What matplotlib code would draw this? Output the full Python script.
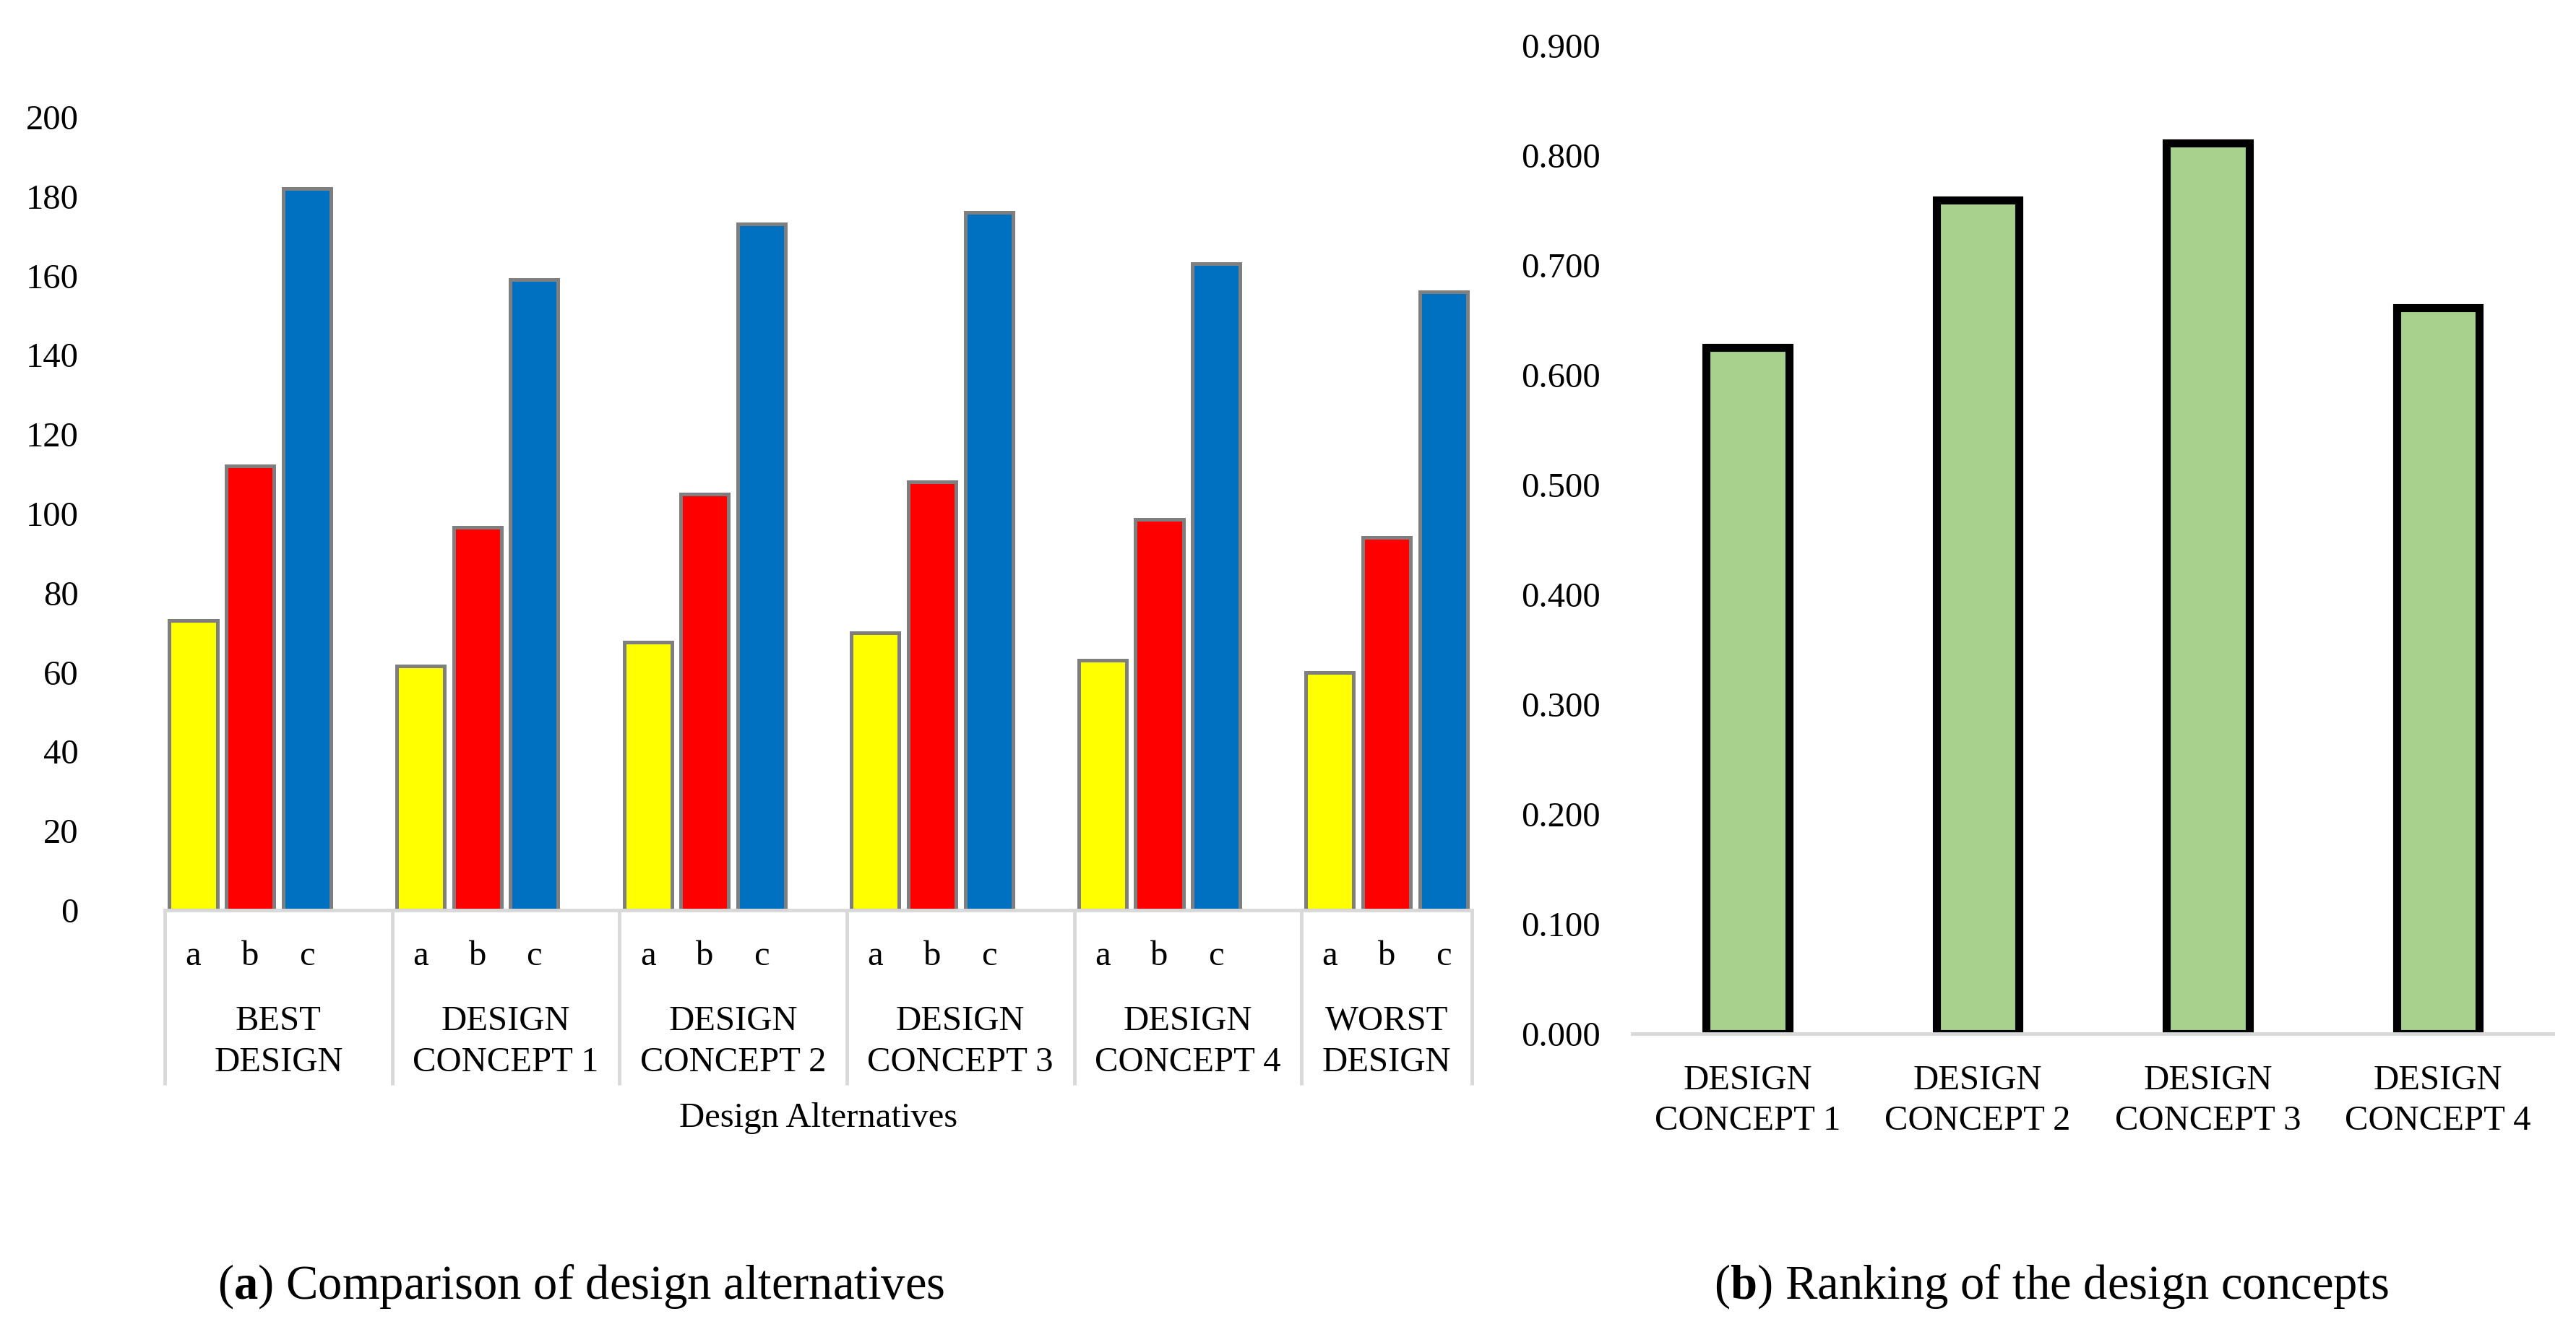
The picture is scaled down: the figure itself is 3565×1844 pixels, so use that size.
import matplotlib.pyplot as plt
import matplotlib.transforms as mtransforms
import numpy as np

plt.rcParams['font.family'] = ['Liberation Serif', 'DejaVu Serif']
plt.rcParams['mathtext.fontset'] = 'custom'
plt.rcParams['mathtext.rm'] = 'Liberation Serif'
plt.rcParams['mathtext.bf'] = 'Liberation Serif:bold'

# (a) design alternatives, three sub-scores each
groups = ['BEST\nDESIGN', 'DESIGN\nCONCEPT 1', 'DESIGN\nCONCEPT 2',
          'DESIGN\nCONCEPT 3', 'DESIGN\nCONCEPT 4', 'WORST\nDESIGN']
sub_labels = ['a', 'b', 'c']
a_vals = [73, 61.5, 67.5, 70, 63, 60]
b_vals = [112, 96.5, 105, 108, 98.5, 94]
c_vals = [182, 159, 173, 176, 163, 156]

# (b) ranking
concepts = ['DESIGN\nCONCEPT 1', 'DESIGN\nCONCEPT 2', 'DESIGN\nCONCEPT 3', 'DESIGN\nCONCEPT 4']
scores = [0.625, 0.759, 0.811, 0.661]

FS = 35
GRID = '#D9D9D9'

fig = plt.figure(figsize=(35.65, 18.44), dpi=100)

# ---- left chart
ax1 = fig.add_axes([0.0640, 0.3167, 0.5074, 0.5954])
slot = 4  # a, b, c and one empty slot between groups
n_slots = len(groups) * slot - 1
colors = ['#FFFF00', '#FF0000', '#0070C0']
for k, (vals, col) in enumerate(zip([a_vals, b_vals, c_vals], colors)):
    x = np.arange(len(groups)) * slot + k
    ax1.bar(x, vals, width=0.84, color=col, edgecolor='#7F7F7F', linewidth=3.6, zorder=2)

ax1.set_xlim(-0.5, n_slots - 0.5)
ax1.set_ylim(0, 200)
ax1.set_yticks(np.arange(0, 201, 20))
ax1.set_xticks([])
ax1.tick_params(axis='y', length=0, pad=86, labelsize=FS)
for s in ['top', 'right', 'left']:
    ax1.spines[s].set_visible(False)
ax1.spines['bottom'].set_color(GRID)
ax1.spines['bottom'].set_linewidth(3.5)
ax1.spines['bottom'].set_zorder(3)

trans1 = mtransforms.blended_transform_factory(ax1.transData, ax1.transAxes)
bounds = [-0.5] + [g * slot + 3.5 for g in range(len(groups) - 1)] + [n_slots - 0.5]
for b in bounds:
    ax1.plot([b, b], [0, -0.2204], transform=trans1, color=GRID, lw=3.5,
             clip_on=False, solid_capstyle='butt')
for g, name in enumerate(groups):
    for k, lab in enumerate(sub_labels):
        ax1.text(g * slot + k, -0.0583, lab, transform=trans1, ha='center',
                 va='center', fontsize=FS)
    ax1.text((bounds[g] + bounds[g + 1]) / 2, -0.166, name, transform=trans1,
             ha='center', va='center', fontsize=FS, linespacing=1.38)
ax1.text(0.5, -0.262, 'Design Alternatives', transform=ax1.transAxes,
         ha='center', va='center', fontsize=FS)

# ---- right chart
ax2 = fig.add_axes([0.6337, 0.2240, 0.3574, 0.7419])
x2 = np.arange(len(concepts))
ax2.bar(x2, scores, width=0.36, color='#A9D18E', edgecolor='black', linewidth=8, zorder=2)
ax2.set_xlim(-0.5, len(concepts) - 0.5)
ax2.set_ylim(0, 0.9)
yt = np.arange(0, 0.91, 0.1)
ax2.set_yticks(yt)
ax2.set_yticklabels(['%.3f' % v for v in yt])
ax2.set_xticks([])
ax2.tick_params(axis='y', length=0, pad=32, labelsize=FS)
for s in ['top', 'right', 'left']:
    ax2.spines[s].set_visible(False)
ax2.spines['bottom'].set_color(GRID)
ax2.spines['bottom'].set_linewidth(3.5)
ax2.spines['bottom'].set_zorder(3)

trans2 = mtransforms.blended_transform_factory(ax2.transData, ax2.transAxes)
for i, name in enumerate(concepts):
    ax2.text(i, -0.068, name, transform=trans2, ha='center', va='center',
             fontsize=FS, linespacing=1.38)

# captions
fig.text(804 / 3565, 1 - 1781 / 1844, r'($\mathbf{a}$) Comparison of design alternatives',
         ha='center', va='center', fontsize=48)
fig.text(2839 / 3565, 1 - 1781 / 1844, r'($\mathbf{b}$) Ranking of the design concepts',
         ha='center', va='center', fontsize=48)

fig.savefig('out.png', dpi=100, facecolor='white')
